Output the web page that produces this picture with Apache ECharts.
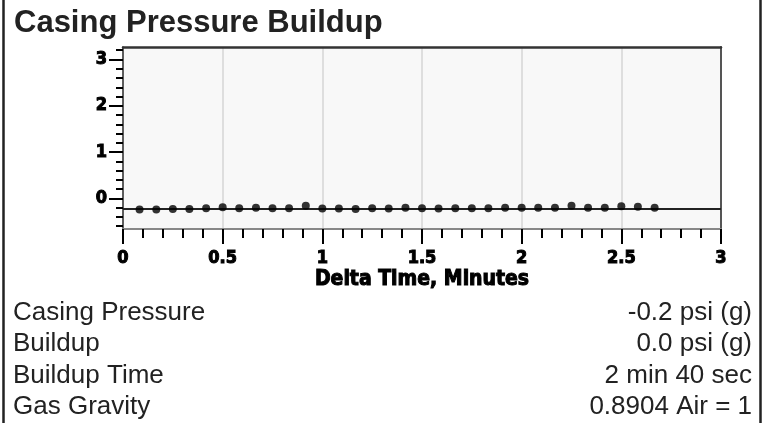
<!DOCTYPE html>
<html>
<head>
<meta charset="utf-8">
<script src="https://cdn.jsdelivr.net/npm/echarts@6/dist/echarts.min.js"></script>
<style>
html,body{margin:0;padding:0;background:#fff;}
#chart{width:770px;height:423px;}
</style>
</head>
<body>
<div id="chart"></div>
<script>
// ---- data ----
const chartTitle = 'Casing Pressure Buildup';
const xAxisTitle = 'Delta Time, Minutes';
const timeMinutes = [0.083, 0.167, 0.25, 0.333, 0.417, 0.5, 0.583, 0.667, 0.75, 0.833, 0.917, 1.0,
  1.083, 1.167, 1.25, 1.333, 1.417, 1.5, 1.583, 1.667, 1.75, 1.833, 1.917, 2.0,
  2.083, 2.167, 2.25, 2.333, 2.417, 2.5, 2.583, 2.667];
const pressure = [-0.24, -0.24, -0.23, -0.23, -0.21, -0.19, -0.21, -0.20, -0.21, -0.21, -0.16, -0.22,
  -0.22, -0.23, -0.21, -0.22, -0.20, -0.21, -0.22, -0.21, -0.21, -0.21, -0.20, -0.20,
  -0.20, -0.20, -0.16, -0.20, -0.20, -0.17, -0.18, -0.20];
const casingPressureLine = -0.22;
const xTickValues = [0, 0.5, 1, 1.5, 2, 2.5, 3];
const xTickLabels = ['0', '0.5', '1', '1.5', '2', '2.5', '3'];
const yMajorTicks = [0, 1, 2, 3];
const yTickLabels = ['0', '1', '2', '3'];
const yMinorTicks = [-0.6, -0.4, -0.2, 0.2, 0.4, 0.6, 0.8, 1.2, 1.4, 1.6, 1.8, 2.2, 2.4, 2.6, 2.8, 3.2];
const infoLabels = ['Casing Pressure', 'Buildup', 'Buildup Time', 'Gas Gravity'];
const infoValues = ['-0.2 psi (g)', '0.0 psi (g)', '2 min 40 sec', '0.8904 Air = 1'];

// ---- chart ----
const axisFont = "'DejaVu Sans Condensed','Liberation Sans Narrow',sans-serif";
const Y_MIN = -0.66, Y_MAX = 3.27;
const chart = echarts.init(document.getElementById('chart'), null, {renderer: 'canvas'});

const graphics = [
  {type: 'line', shape: {x1: 3.5, y1: 0, x2: 3.5, y2: 423}, style: {stroke: '#222', lineWidth: 2.5}},
  {type: 'line', shape: {x1: 760.5, y1: 0, x2: 760.5, y2: 423}, style: {stroke: '#222', lineWidth: 2.5}},
  {type: 'text', x: 14, y: 23, style: {text: chartTitle, font: 'bold 31px "Liberation Sans", Arial, sans-serif', fill: '#222', textAlign: 'left', textVerticalAlign: 'middle', verticalAlign: 'middle'}}
];
infoLabels.forEach(function (lab, i) {
  const y = 313 + i * 31.2;
  graphics.push({type: 'text', x: 13, y: y, style: {text: lab, font: '26px "Liberation Sans", Arial, sans-serif', fill: '#222', textAlign: 'left', verticalAlign: 'middle', textVerticalAlign: 'middle'}});
  graphics.push({type: 'text', x: 752, y: y, style: {text: infoValues[i], font: '26px "Liberation Sans", Arial, sans-serif', fill: '#222', textAlign: 'right', verticalAlign: 'middle', textVerticalAlign: 'middle'}});
});

const heavy = {fontFamily: axisFont, fontWeight: 'bold', color: '#000', textBorderColor: '#000', textBorderWidth: 1};

const option = {
  animation: false,
  backgroundColor: '#fff',
  graphic: graphics,
  grid: {left: 123, right: 49, top: 47, bottom: 194, show: true, backgroundColor: '#f8f8f8', borderWidth: 0},
  xAxis: [
    {
      type: 'value', min: 0, max: 3, interval: 0.5, position: 'bottom',
      name: xAxisTitle, nameLocation: 'middle', nameGap: 40,
      nameTextStyle: Object.assign({fontSize: 21}, heavy),
      axisLine: {show: true, onZero: false, lineStyle: {color: '#888', width: 2}},
      axisTick: {show: true, length: 15, lineStyle: {color: '#000', width: 2}},
      minorTick: {show: true, splitNumber: 5, length: 9, lineStyle: {color: '#000', width: 2}},
      splitLine: {show: true, lineStyle: {color: '#d6d6d6', width: 1.5}},
      axisLabel: Object.assign({
        margin: 20, fontSize: 18,
        formatter: function (v) { const i = xTickValues.indexOf(Math.round(v * 2) / 2); return i >= 0 ? xTickLabels[i] : ''; }
      }, heavy)
    },
    {
      type: 'value', min: 0, max: 3, position: 'top',
      axisLine: {show: true, onZero: false, lineStyle: {color: '#333', width: 2.5}},
      axisTick: {show: false}, axisLabel: {show: false}, splitLine: {show: false}
    }
  ],
  yAxis: [
    {
      type: 'value', min: Y_MIN, max: Y_MAX, position: 'left',
      axisLine: {show: true, onZero: false, lineStyle: {color: '#333', width: 1.5}},
      axisTick: {show: true, length: 14, customValues: yMajorTicks, lineStyle: {color: '#000', width: 2}},
      axisLabel: Object.assign({
        show: true, margin: 16, customValues: yMajorTicks, fontSize: 18,
        formatter: function (v) { const i = yMajorTicks.indexOf(Math.round(v)); return i >= 0 ? yTickLabels[i] : ''; }
      }, heavy),
      splitLine: {show: false}
    },
    {
      type: 'value', min: Y_MIN, max: Y_MAX, position: 'left',
      axisLine: {show: false},
      axisTick: {show: true, length: 7, customValues: yMinorTicks, lineStyle: {color: '#000', width: 2}},
      axisLabel: {show: false}, splitLine: {show: false}
    },
    {
      type: 'value', min: Y_MIN, max: Y_MAX, position: 'right',
      axisLine: {show: true, onZero: false, lineStyle: {color: '#555', width: 2}},
      axisTick: {show: false}, axisLabel: {show: false}, splitLine: {show: false}
    }
  ],
  series: [
    {
      type: 'scatter', xAxisIndex: 0, yAxisIndex: 0,
      data: timeMinutes.map(function (t, i) { return [t, pressure[i]]; }),
      symbol: 'circle', symbolSize: 8,
      itemStyle: {color: '#000'},
      z: 5,
      markLine: {
        silent: true, symbol: 'none', label: {show: false},
        lineStyle: {color: '#222', type: 'solid', width: 2},
        data: [{yAxis: casingPressureLine}]
      }
    }
  ]
};
chart.setOption(option);
</script>
</body>
</html>
